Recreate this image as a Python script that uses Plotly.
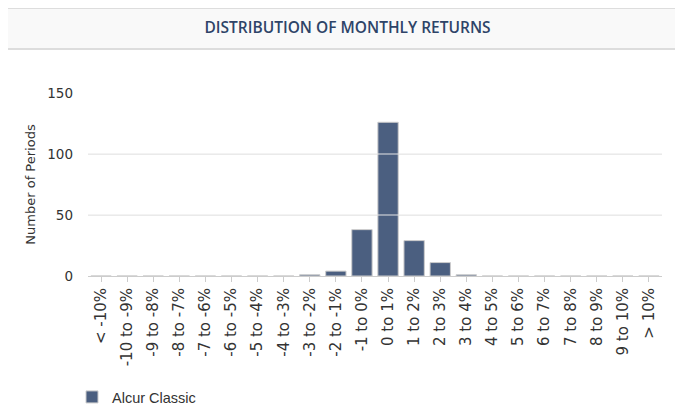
import plotly.graph_objects as go

# Kategorien und Häufigkeiten der Monatsrenditen
categories = ["< -10%", "-10 to -9%", "-9 to -8%", "-8 to -7%", "-7 to -6%", "-6 to -5%",
              "-5 to -4%", "-4 to -3%", "-3 to -2%", "-2 to -1%", "-1 to 0%", "0 to 1%",
              "1 to 2%", "2 to 3%", "3 to 4%", "4 to 5%", "5 to 6%", "6 to 7%",
              "7 to 8%", "8 to 9%", "9 to 10%", "> 10%"]
periods = [0, 0, 0, 0, 0, 0, 0, 0, 1, 4, 38, 126, 29, 11, 1, 0, 0, 0, 0, 0, 0, 0]
series_name = "Alcur Classic"
y_ticks = [0, 50, 100, 150]

# die Seite hat 8px Rand, also alles um 8px verschieben
OFF = 8
W, H = 683 - OFF, 405 - OFF
L, R, T, B = 88 - OFF, 21, 93 - OFF, 405 - 276
pw, ph = W - L - R, H - T - B


def px(x):
    return (x - OFF - L) / pw


def py(y):
    return (H - B - (y - OFF)) / ph


fig = go.Figure()
fig.add_trace(go.Bar(x=categories, y=periods, name=series_name,
                     marker=dict(color="#4b5f80", line=dict(color="#cccccc", width=1)),
                     showlegend=True))

shapes = [
    # Kopfzeile
    dict(type="rect", xref="paper", yref="paper", x0=px(3), x1=px(690), y0=py(49), y1=py(8),
         fillcolor="#f9f9f9", line=dict(width=0), layer="below"),
    dict(type="line", xref="paper", yref="paper", x0=px(3), x1=px(690), y0=py(8), y1=py(8),
         line=dict(color="#dddddd", width=2)),
    dict(type="line", xref="paper", yref="paper", x0=px(3), x1=px(690), y0=py(49), y1=py(49),
         line=dict(color="#dddddd", width=2)),
]
# Gitterlinien über den Balken
for v in y_ticks[1:-1]:
    shapes.append(dict(type="line", xref="paper", yref="y", x0=0, x1=1, y0=v, y1=v,
                       line=dict(color="#e6e6e6", width=1), layer="above"))

fig.update_layout(
    width=W, height=H,
    margin=dict(l=L, r=R, t=T, b=B, autoexpand=False),
    paper_bgcolor="white", plot_bgcolor="white",
    bargap=0.22,
    title=dict(text="DISTRIBUTION OF MONTHLY RETURNS", x=(347.5 - OFF) / W, xref="container",
               xanchor="center", y=1 - (28 - OFF) / H, yref="container", yanchor="middle",
               font=dict(family="Open Sans", size=15.5, color="#2e4468", weight=600)),
    xaxis=dict(type="category", tickangle=-90, ticks="outside", ticklen=5, tickcolor="#cccccc",
               showline=True, linecolor="#cccccc", linewidth=1, showgrid=False,
               tickfont=dict(family="DejaVu Sans", size=15, color="#333333")),
    yaxis=dict(range=[0, 150], tickvals=y_ticks, showgrid=True, gridcolor="#eeeeee",
               zeroline=False, showline=False, ticks="", ticklabelstandoff=14,
               title=dict(text="Number of Periods", standoff=8,
                          font=dict(family="DejaVu Sans", size=13, color="#333333")),
               tickfont=dict(family="DejaVu Sans", size=13.5, color="#333333")),
    legend=dict(x=px(72), y=py(397), xanchor="left", yanchor="middle", orientation="h",
                font=dict(family="Liberation Sans", size=14.5, color="#333333")),
    shapes=shapes,
)

fig.write_html("out.html")
